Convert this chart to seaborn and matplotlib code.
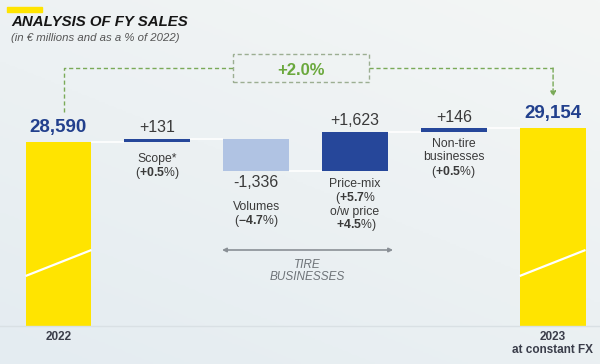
import numpy as np
import matplotlib.pyplot as plt
import seaborn as sns
from matplotlib.patches import Rectangle

# ---- data ----
steps = ["2022", "Scope", "Volumes", "Price-mix", "Non-tire", "2023"]
values = [28590, 131, -1336, 1623, 146, 29154]
is_total = [True, False, False, False, False, True]
value_labels = ["28,590", "+131", "-1,336", "+1,623", "+146", "29,154"]
growth_label = "+2.0%"

plt.rcParams['font.family'] = ['Liberation Sans', 'DejaVu Sans']
plt.rcParams['mathtext.fontset'] = 'custom'
plt.rcParams['mathtext.rm'] = 'Liberation Sans'
plt.rcParams['mathtext.bf'] = 'Liberation Sans:bold'
plt.rcParams['mathtext.it'] = 'Liberation Sans:italic'

# running totals for the waterfall
bottoms, heights, levels = [], [], []
run = 0
for v, tot in zip(values, is_total):
    if tot:
        bottoms.append(0)
        heights.append(v)
        run = v
    else:
        bottoms.append(run)
        heights.append(v)
        run = run + v
    levels.append(run)

yellow = "#ffe400"
dark_blue = "#26479a"
light_blue = "#b0c3e3"
bar_colors = [yellow, dark_blue, light_blue, dark_blue, dark_blue, yellow]

W, H = 600, 364
fig = plt.figure(figsize=(W / 100, H / 100), dpi=100)
fig.patch.set_facecolor("#edf2f4")

# soft background gradient
bg = fig.add_axes([0, 0, 1, 1], zorder=-5)
gx = np.linspace(0, 1, 200)
gy = np.linspace(0, 1, 200)
GX, GY = np.meshgrid(gx, gy)
grad = 0.6 * GY + 0.4 * (1 - GX)
bg.imshow(grad, cmap=sns.blend_palette(["#f4f6f5", "#e4ecf1"], as_cmap=True),
          aspect="auto", extent=[0, 1, 0, 1])
bg.axis("off")

ax = fig.add_axes([0, 38 / H, 1, 326 / H])
ax.patch.set_alpha(0)

sns.barplot(x=steps, y=heights, bottom=bottoms, width=0.667, color=yellow,
            errorbar=None, linewidth=0, ax=ax)
for p, c in zip(ax.patches, bar_colors):
    p.set_facecolor(c)

ymin, ymax = 20923, 34507
ax.set_xlim(-0.592, 5.48)
ax.set_ylim(ymin, ymax)
ax.axis("off")

px = (ymax - ymin) / 326.0  # data units per pixel


def ypx(p):
    return ymax - p * px


def xpx(p):
    return -0.592 + p / 98.8


# connector lines between bars
hw = 0.667 / 2
for i in range(len(steps) - 1):
    ax.hlines(levels[i], i + hw, i + 1 - hw, color="white", lw=1.2, zorder=1)

# axis break marks on the yellow bars
for i, tot in enumerate(is_total):
    if tot:
        ax.plot([i - hw, i + hw], [ypx(276), ypx(250)], color="white", lw=1.6,
                solid_capstyle="butt", zorder=3)

# baseline
ax.axhline(ymin, color="#d9e0e4", lw=1, clip_on=False)

# value labels
txt = "#3a3a3a"
blue_txt = "#22408d"
for i, (lab, tot) in enumerate(zip(value_labels, is_total)):
    top = max(bottoms[i], bottoms[i] + heights[i])
    low = min(bottoms[i], bottoms[i] + heights[i])
    if tot:
        ax.annotate(lab, (i, top), xytext=(0, 15), textcoords="offset pixels",
                    ha="center", va="center", fontsize=13.5, fontweight="bold",
                    color=blue_txt)
    elif values[i] < 0:
        ax.annotate(lab, (i, low), xytext=(0, -12), textcoords="offset pixels",
                    ha="center", va="center", fontsize=11.5, color=txt)
    else:
        ax.annotate(lab, (i, top), xytext=(0, 11), textcoords="offset pixels",
                    ha="center", va="center", fontsize=11.5, color=txt)

# category descriptions
lab_txt = "#3a3a3a"
descs = {
    1: (["Scope*", r"($\mathbf{+0.5}$%)"], [17, 31]),
    2: (["Volumes", r"($\mathbf{-4.7}$%)"], [36, 50]),
    3: (["Price-mix", r"($\mathbf{+5.7}$%", "o/w price", r" $\mathbf{+4.5}$%)"], [13, 27, 41, 54]),
    4: (["Non-tire", "businesses", r"($\mathbf{+0.5}$%)"], [12, 25, 40]),
}
for i, (lines, offs) in descs.items():
    low = min(bottoms[i], bottoms[i] + heights[i])
    for line, off in zip(lines, offs):
        ax.annotate(line, (i, low), xytext=(0, -off), textcoords="offset pixels",
                    ha="center", va="center", fontsize=8.8, color=lab_txt)

# tire businesses double arrow
ax.annotate("", xy=(xpx(222), ypx(250)), xytext=(xpx(393), ypx(250)),
            arrowprops=dict(arrowstyle="<|-|>", color="#8a9096", lw=1.2,
                            mutation_scale=6, shrinkA=0, shrinkB=0))
ax.text(xpx(307), ypx(265), "TIRE", ha="center", va="center", fontsize=8.5,
        style="italic", color="#6e7378")
ax.text(xpx(307), ypx(277), "BUSINESSES", ha="center", va="center", fontsize=8.5,
        style="italic", color="#6e7378")

# growth bracket
green = "#7aaa58"
ax.plot([xpx(64), xpx(64), xpx(233)], [ypx(112), ypx(68), ypx(68)],
        color=green, lw=1, ls=(0, (3, 2)))
ax.plot([xpx(369), xpx(553)], [ypx(68), ypx(68)], color=green, lw=1, ls=(0, (3, 2)))
ax.annotate("", xy=(xpx(553), ypx(97)), xytext=(xpx(553), ypx(68)),
            arrowprops=dict(arrowstyle="-|>", color=green, lw=1, ls=(0, (3, 2)),
                            mutation_scale=8, shrinkA=0, shrinkB=0))
ax.add_patch(Rectangle((xpx(233), ypx(82)), xpx(369) - xpx(233), ypx(54) - ypx(82),
                       fill=False, edgecolor="#9cae92", lw=1, ls=(0, (3, 2))))
ax.text(xpx(301), ypx(70), growth_label, ha="center", va="center", fontsize=12,
        fontweight="bold", color="#6aa83c")

# bottom year labels
year_txt = "#3a3d4a"
ax.text(0, ypx(337), steps[0], ha="center", va="center", fontsize=8.5,
        fontweight="bold", color=year_txt, clip_on=False)
ax.text(5, ypx(337), steps[5], ha="center", va="center", fontsize=8.5,
        fontweight="bold", color=year_txt, clip_on=False)
ax.text(5, ypx(350), "at constant FX", ha="center", va="center", fontsize=8.5,
        fontweight="bold", color=year_txt, clip_on=False)

# title block
fig.patches.append(Rectangle((7 / W, 1 - 12 / H), 35 / W, 5 / H, color=yellow,
                             transform=fig.transFigure, figure=fig))
fig.text(11 / W, 1 - 22 / H, "ANALYSIS OF FY SALES", ha="left", va="center",
         fontsize=10.8, fontweight="heavy", style="italic", color="#151515")
fig.text(11 / W, 1 - 38 / H, "(in € millions and as a % of 2022)", ha="left",
         va="center", fontsize=8.2, style="italic", color="#555555")

fig.savefig("out.png", dpi=100)
